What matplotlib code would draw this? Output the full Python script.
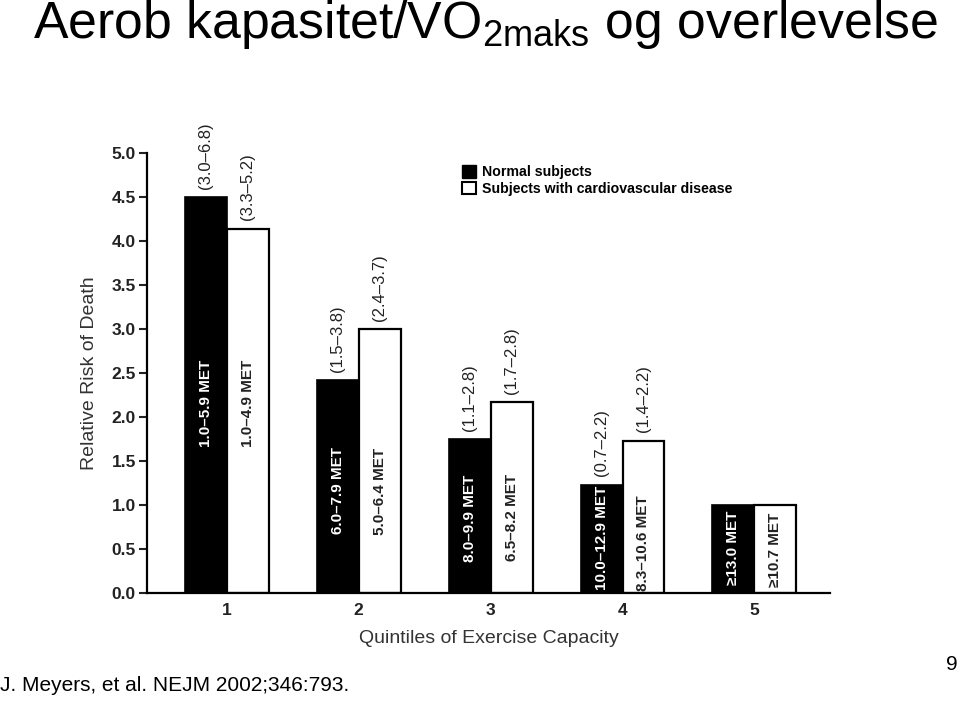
import numpy as np
import matplotlib; matplotlib.use("Agg")
import matplotlib.pyplot as plt
from matplotlib.patches import Patch

plt.rcParams["font.family"] = ["Liberation Sans", "DejaVu Sans"]
plt.rcParams["mathtext.fontset"] = "custom"
plt.rcParams["mathtext.rm"] = "Liberation Sans"

quintiles = [1, 2, 3, 4, 5]
normal = [4.5, 2.42, 1.75, 1.23, 1.0]
cvd = [4.14, 3.0, 2.17, 1.73, 1.0]
normal_ci = ["(3.0\u20136.8)", "(1.5\u20133.8)", "(1.1\u20132.8)", "(0.7\u20132.2)", ""]
cvd_ci = ["(3.3\u20135.2)", "(2.4\u20133.7)", "(1.7\u20132.8)", "(1.4\u20132.2)", ""]
normal_met = ["1.0\u20135.9 MET", "6.0\u20137.9 MET", "8.0\u20139.9 MET", "10.0\u201312.9 MET", "\u226513.0 MET"]
cvd_met = ["1.0\u20134.9 MET", "5.0\u20136.4 MET", "6.5\u20138.2 MET", "8.3\u201310.6 MET", "\u226510.7 MET"]
# label centres inside bars (data units)
normal_met_y = [2.15, 1.16, 0.85, 0.63, 0.51]
cvd_met_y = [2.15, 1.15, 0.86, 0.57, 0.49]

fig = plt.figure(figsize=(9.6, 7.05), dpi=100)
ax = fig.add_axes([0.153, 0.159, 0.712, 0.624])
x = np.array(quintiles)
w = 0.318
ax.bar(x - w/2, normal, w, color="black", edgecolor="black", lw=1.2)
ax.bar(x + w/2, cvd, w, color="white", edgecolor="black", lw=1.6)
for i in range(len(x)):
    if normal_ci[i]:
        ax.annotate(normal_ci[i], (x[i]-w/2, normal[i]), xytext=(0, 6), textcoords="offset points",
                    rotation=90, ha="center", va="bottom", fontsize=12, color="#222")
        ax.annotate(cvd_ci[i], (x[i]+w/2, cvd[i]), xytext=(0, 6), textcoords="offset points",
                    rotation=90, ha="center", va="bottom", fontsize=12, color="#222")
    ax.text(x[i]-w/2, normal_met_y[i], normal_met[i], rotation=90, ha="center", va="center",
            fontsize=11, fontweight="bold", color="white")
    ax.text(x[i]+w/2, cvd_met_y[i], cvd_met[i], rotation=90, ha="center", va="center",
            fontsize=11, fontweight="bold", color="#222")

ax.set_xlim(0.394, 5.576); ax.set_ylim(0, 5.0)
ax.set_xticks(quintiles)
ax.set_yticks(np.arange(0, 5.01, 0.5))
ax.set_yticklabels([f"{v:.1f}" for v in np.arange(0, 5.01, 0.5)])
ax.spines[["top", "right"]].set_visible(False)
for s in ["left", "bottom"]:
    ax.spines[s].set_linewidth(1.6)
ax.tick_params(axis="y", length=6, width=1.5, labelsize=12.5, colors="#222", pad=2)
ax.tick_params(axis="x", length=0, labelsize=12.5, colors="#222", pad=7)
for t in ax.get_xticklabels() + ax.get_yticklabels():
    t.set_fontweight("bold")
ax.set_xlabel("Quintiles of Exercise Capacity", fontsize=14, color="#333", labelpad=9)
ax.set_ylabel("Relative Risk of Death", fontsize=14, color="#333", labelpad=10)
ax.legend(handles=[Patch(facecolor="black", edgecolor="black", label="Normal subjects"),
                   Patch(facecolor="white", edgecolor="black", lw=1.5, label="Subjects with cardiovascular disease")],
          loc="upper left", bbox_to_anchor=(0.453, 0.985), frameon=False,
          prop={"weight": "bold", "size": 10.2}, handlelength=1.0, handleheight=1.0,
          handletextpad=0.4, labelspacing=0.15, borderaxespad=0)

fig.text(0.034, 0.946, r"Aerob kapasitet/VO$_\mathregular{2maks}$ og overlevelse", fontsize=37.3, color="black")
fig.text(0.0, 0.02, "J. Meyers, et al. NEJM 2002;346:793.", fontsize=15, color="black")
fig.text(0.998, 0.05, "9", fontsize=15, color="black", ha="right")
fig.savefig("out.png", dpi=100)
